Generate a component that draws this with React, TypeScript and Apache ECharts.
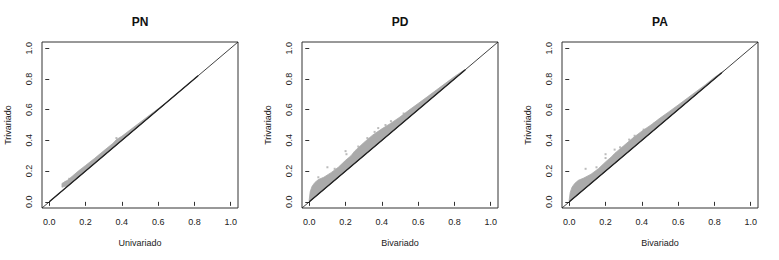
import React, { useEffect, useRef } from "react";
import * as echarts from "echarts";

const TITLES = ["PN", "PD", "PA"];
const X_NAMES = ["Univariado", "Bivariado", "Bivariado"];
const Y_NAME = "Trivariado";
const TICKS = [0, 0.2, 0.4, 0.6, 0.8, 1.0];

// PN cloud (narrow band)
const PN_X = [0.07, 0.1, 0.13, 0.16, 0.2, 0.25, 0.3, 0.35, 0.37, 0.4, 0.45, 0.5, 0.55, 0.6, 0.63];
const PN_UP = [0.12, 0.14, 0.17, 0.2, 0.237, 0.283, 0.332, 0.38, 0.405, 0.427, 0.472, 0.517, 0.562, 0.606, 0.632];
const PN_LO = [0.095, 0.105, 0.135, 0.163, 0.203, 0.252, 0.302, 0.352, 0.372, 0.402, 0.452, 0.502, 0.552, 0.601, 0.63];
const PN_OUT: number[][] = [[0.37, 0.415], [0.09, 0.13], [0.11, 0.15]];

// PD cloud
const PD_X = [0, 0.005, 0.015, 0.03, 0.05, 0.08, 0.12, 0.16, 0.2, 0.23, 0.25, 0.3, 0.35, 0.4, 0.45, 0.5, 0.55, 0.6, 0.65, 0.7, 0.75, 0.8, 0.85];
const PD_UP = [0.015, 0.065, 0.1, 0.125, 0.145, 0.16, 0.19, 0.225, 0.27, 0.3, 0.33, 0.385, 0.435, 0.475, 0.512, 0.552, 0.597, 0.64, 0.683, 0.727, 0.771, 0.815, 0.855];
const PD_LO = PD_X;
const PD_OUT: number[][] = [
  [0.1, 0.225], [0.2, 0.33], [0.205, 0.31], [0.27, 0.36], [0.32, 0.415], [0.36, 0.455],
  [0.45, 0.525], [0.05, 0.16], [0.14, 0.215], [0.38, 0.48], [0.42, 0.5], [0.52, 0.575],
];

// PA cloud
const PA_X = [0, 0.005, 0.015, 0.03, 0.05, 0.08, 0.12, 0.16, 0.2, 0.23, 0.25, 0.3, 0.35, 0.4, 0.45, 0.5, 0.55, 0.6, 0.65, 0.7, 0.75, 0.8, 0.85];
const PA_UP = [0.015, 0.06, 0.095, 0.12, 0.14, 0.155, 0.18, 0.215, 0.26, 0.29, 0.315, 0.365, 0.415, 0.46, 0.5, 0.545, 0.587, 0.63, 0.674, 0.718, 0.762, 0.81, 0.85];
const PA_LO = PA_X;
const PA_OUT: number[][] = [
  [0.09, 0.215], [0.2, 0.31], [0.2, 0.285], [0.28, 0.355], [0.33, 0.405], [0.47, 0.51],
  [0.41, 0.47], [0.25, 0.34], [0.36, 0.43], [0.15, 0.225],
];

// diagonal y = x and the dense on-diagonal segment
const DIAG = [[-0.04, -0.04], [1.04, 1.04]];
const DIAG_DENSE_END = [0.82, 0.86, 0.84];

const CLOUDS = [
  { xs: PN_X, up: PN_UP, lo: PN_LO, out: PN_OUT },
  { xs: PD_X, up: PD_UP, lo: PD_LO, out: PD_OUT },
  { xs: PA_X, up: PA_UP, lo: PA_LO, out: PA_OUT },
];

const FONT = '"Liberation Sans", Arial, Helvetica, sans-serif';
const LEFTS = [42, 302, 562];
const TOP = 42;
const W = 196;
const H = 166;
const GRAY = "#aaaaaa";
const INK = "#222";

export default function App() {
  const ref = useRef<HTMLDivElement>(null);
  useEffect(() => {
    if (!ref.current) return;
    const chart = echarts.init(ref.current, null, { renderer: "svg" });
    const grids = LEFTS.map((l) => ({
      left: l,
      top: TOP,
      width: W,
      height: H,
      show: true,
      borderColor: "#333",
      borderWidth: 1,
      backgroundColor: "transparent",
    }));
    const axisCommon = (rotate: number) => ({
      type: "value",
      min: -0.04,
      max: 1.04,
      splitLine: { show: false },
      axisLine: { show: false },
      axisTick: { show: true, length: 4, inside: false, customValues: TICKS, lineStyle: { color: "#333" } },
      axisLabel: {
        show: true,
        customValues: TICKS,
        rotate,
        margin: 9,
        fontSize: 9,
        fontFamily: FONT,
        color: INK,
        formatter: (v: number) => v.toFixed(1),
      },
    });
    const xAxes = LEFTS.map((_, i) => ({ ...axisCommon(0), gridIndex: i }));
    const yAxes = LEFTS.map((_, i) => ({ ...axisCommon(90), gridIndex: i }));
    const series: any[] = [];
    CLOUDS.forEach((c, i) => {
      series.push({
        type: "custom",
        xAxisIndex: i,
        yAxisIndex: i,
        data: [[c.xs[0], c.lo[0]]],
        silent: true,
        renderItem: (_p: any, api: any) => {
          const top = c.xs.map((x, k) => api.coord([x, c.up[k]]));
          const bot = c.xs.map((x, k) => api.coord([x, c.lo[k]])).reverse();
          return {
            type: "polygon",
            shape: { points: top.concat(bot) },
            style: { fill: GRAY, stroke: GRAY, lineWidth: 0.8 },
          };
        },
      });
      series.push({
        type: "scatter",
        xAxisIndex: i,
        yAxisIndex: i,
        data: c.out,
        symbol: "rect",
        symbolSize: 2,
        itemStyle: { color: GRAY },
        silent: true,
      });
      series.push({
        type: "line",
        xAxisIndex: i,
        yAxisIndex: i,
        data: DIAG,
        symbol: "none",
        lineStyle: { color: "#111", width: 0.8 },
        silent: true,
      });
      series.push({
        type: "line",
        xAxisIndex: i,
        yAxisIndex: i,
        data: [[0, 0], [DIAG_DENSE_END[i], DIAG_DENSE_END[i]]],
        symbol: "none",
        lineStyle: { color: "#222", width: 1.3 },
        silent: true,
      });
    });
    const graphic: any[] = [];
    LEFTS.forEach((l, i) => {
      const cx = l + W / 2;
      graphic.push({
        type: "text",
        x: cx,
        y: 22,
        style: { text: TITLES[i], font: `bold 12px ${FONT}`, fill: "#111", align: "center", verticalAlign: "middle" },
      });
      graphic.push({
        type: "text",
        x: cx,
        y: 243,
        style: { text: X_NAMES[i], font: `9px ${FONT}`, fill: INK, align: "center", verticalAlign: "middle" },
      });
      graphic.push({
        type: "text",
        x: l - 34,
        y: TOP + H / 2,
        rotation: Math.PI / 2,
        style: { text: Y_NAME, font: `9px ${FONT}`, fill: INK, align: "center", verticalAlign: "middle" },
      });
    });
    chart.setOption({
      animation: false,
      backgroundColor: "#fff",
      grid: grids,
      xAxis: xAxes,
      yAxis: yAxes,
      series,
      graphic,
    });
    return () => chart.dispose();
  }, []);
  return <div ref={ref} style={{ position: "absolute", left: 0, top: 0, width: 779, height: 260 }} />;
}
